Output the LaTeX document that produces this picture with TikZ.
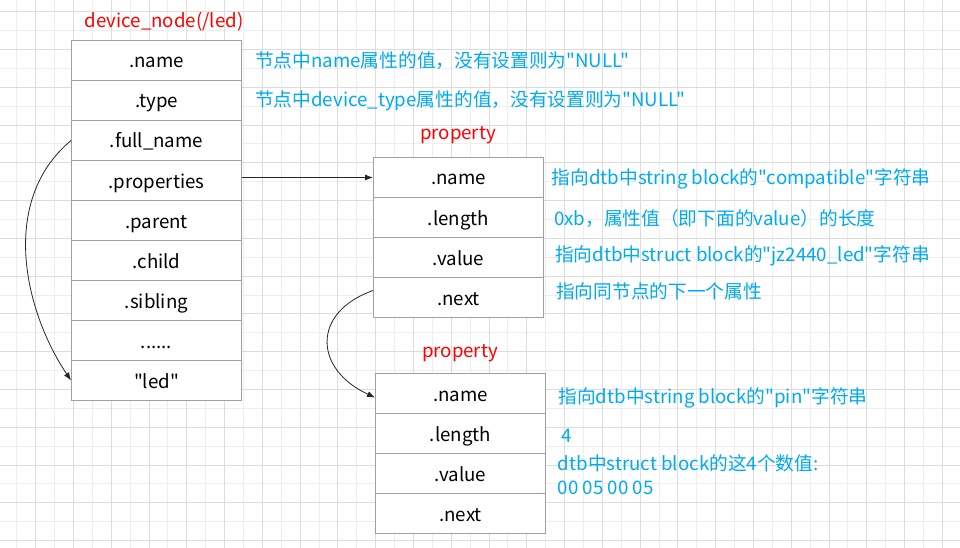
\documentclass[tikz,border=0pt]{standalone}
\usepackage{fontspec}
\setmainfont{Noto Sans CJK SC}[Ligatures=TeXOff]
\usepackage{xcolor}
\usetikzlibrary{arrows.meta, calc}

\definecolor{gridmajor}{HTML}{DCDCDC}
\definecolor{gridminor}{HTML}{EEEEEE}
\definecolor{cellgray}{HTML}{A0A0A0}
\definecolor{noteblue}{HTML}{00AAEE}
\definecolor{titlered}{HTML}{FF0000}

\begin{document}
\begin{tikzpicture}[x=1pt, y=-1pt,
        cell/.style={draw=cellgray, line width=0.9pt, fill=white, minimum width=170pt, minimum height=40pt, inner sep=0pt, text height=15pt, text depth=0pt, font=\fontsize{18.7}{22}\selectfont},
        title/.style={text=titlered, anchor=base, inner sep=0pt, font=\fontsize{18.7}{22}\selectfont},
        note/.style={text=noteblue, anchor=base west, inner sep=0pt, font=\fontsize{18.7}{22}\selectfont},
        link/.style={line width=0.8pt, draw=black!85, -{Latex[length=8pt, width=6pt]}}]
        	\useasboundingbox (0,0) rectangle (960,548);
        	% Background grid:
        	\foreach \i in {0,...,50} \draw[gridminor, line width=1pt] ({16.8+18.89*\i},0) -- ({16.8+18.89*\i},548);
        	\foreach \j in {0,...,28} \draw[gridminor, line width=1pt] (0,{11.7+18.89*\j}) -- (960,{11.7+18.89*\j});
        	\foreach \i in {0,...,24} \draw[gridmajor, line width=1pt] ({35.7+37.78*\i},0) -- ({35.7+37.78*\i},548);
        	\foreach \j in {0,...,14} \draw[gridmajor, line width=1pt] (0,{11.7+37.78*\j}) -- (960,{11.7+37.78*\j});
        	% device_node:
        	\node[title] (dntitle) at (164,27.3) {device\_node(/led)};
        	\node[cell] (dname) at (156.5,60.5) {.name};
        	\node[cell] (dtype) at (156.5,100.5) {.type};
        	\node[cell] (dfull) at (156.5,140.5) {.full\_name};
        	\node[cell] (dprops) at (156.5,180.5) {.properties};
        	\node[cell] (dparent) at (156.5,220.5) {.parent};
        	\node[cell] (dchild) at (156.5,260.5) {.child};
        	\node[cell] (dsib) at (156.5,300.5) {.sibling};
        	\node[cell] (ddots) at (156.5,340.5) {......};
        	\node[cell] (dled) at (156.5,380.5) {"led"};
        	\node[note] (nname) at (255,67.3) {节点中name属性的值，没有设置则为"NULL"};
        	\node[note] (ntype) at (255,106.7) {节点中device\_type属性的值，没有设置则为"NULL"};
        	% first property:
        	\node[title] (p1title) at (458,139.3) {property};
        	\node[cell] (p1name) at (458.5,177.5) {.name};
        	\node[cell] (p1len) at (458.5,217.5) {.length};
        	\node[cell] (p1val) at (458.5,257.5) {.value};
        	\node[cell] (p1next) at (458.5,297.5) {.next};
        	\node[note] (n1name) at (551.5,185) {指向dtb中string block的"compatible"字符串};
        	\node[note] (n1len) at (554,225) {0xb，属性值（即下面的value）的长度};
        	\node[note] (n1val) at (555,261.7) {指向dtb中struct block的"jz2440\_led"字符串};
        	\node[note] (n1next) at (556,298.5) {指向同节点的下一个属性};
        	% second property:
        	\node[title] (p2title) at (460,357.3) {property};
        	\node[cell] (p2name) at (460.5,393.5) {.name};
        	\node[cell] (p2len) at (460.5,433.5) {.length};
        	\node[cell] (p2val) at (460.5,473.5) {.value};
        	\node[cell] (p2next) at (460.5,513.5) {.next};
        	\node[note] (n2name) at (558.3,403.3) {指向dtb中string block的"pin"字符串};
        	\node[note] (n2len) at (561.7,442.7) {4};
        	\node[note] (n2val) at (557.7,470) {dtb中struct block的这4个数值:};
        	\node[note] (n2data) at (557.7,494) {00 05 00 05};
        	% Links:
        	\draw[link] (dprops.east |- p1name.west) -- (p1name.west);
        	\draw[link] (dfull.west) .. controls +(-72,60) and +(-47,-70) .. (dled.west);
        	\draw[link] ($(p1next.west)+(0,-7)$) .. controls +(-62,22) and +(-61,-28) .. ($(p2name.west)+(0,4)$);
        \end{tikzpicture}
\end{document}
